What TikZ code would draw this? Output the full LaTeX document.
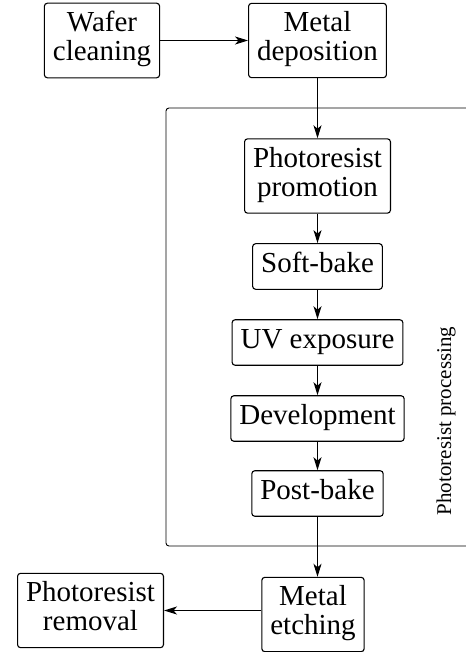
\documentclass[tikz,border=0pt]{standalone}
\usepackage{fontspec}
\setmainfont{Liberation Serif}
\usetikzlibrary{arrows.meta}

\begin{document}
\begin{tikzpicture}[x=1pt,y=-1pt,
        stepbox/.style={draw, rounded corners=3pt, line width=1.1pt, align=center,
            inner xsep=8.5pt, inner ysep=8.25pt,
            font=\fontsize{29}{29}\selectfont,
            execute at begin node=\strut, execute at end node=\strut},
        flow/.style={line width=1.1pt, -{Stealth[length=13pt,width=8pt,inset=3.5pt]}}]
        \useasboundingbox (0,0) rectangle (465,652);

        %%%%%%%%% Riquadro %%%%%%%%%
        \draw[line width=0.9pt, rounded corners=3pt] (166,108) rectangle (490,546);
        \node[rotate=90, font=\fontsize{21}{21}\selectfont] (proclabel) at (446,421) {Photoresist processing};

        %%%%%%%%% Passi %%%%%%%%%%
        \node[stepbox] (wafer) at (102,40.5) {Wafer\\cleaning};
        \node[stepbox] (depo) at (317.5,40.5) {Metal\\deposition};
        \node[stepbox] (promo) at (317.5,176) {Photoresist\\promotion};
        \node[stepbox] (soft) at (317.5,266.5) {Soft-bake};
        \node[stepbox] (uv) at (317.5,342.5) {UV exposure};
        \node[stepbox] (devel) at (317.5,418.5) {Development};
        \node[stepbox] (post) at (317.5,493.5) {Post-bake};
        \node[stepbox] (etch) at (313,614.5) {Metal\\etching};
        \node[stepbox] (removal) at (90.5,610.5) {Photoresist\\removal};

        %%%%%%%%% Frecce %%%%%%%%%
        \draw[flow] (wafer) -- (depo);
        \draw[flow] (depo.south) -- (depo.south |- promo.north);
        \draw[flow] (promo) -- (soft);
        \draw[flow] (soft) -- (uv);
        \draw[flow] (uv) -- (devel);
        \draw[flow] (devel) -- (post);
        \draw[flow] (post.south) -- (post.south |- etch.north);
        \draw[flow] (etch.west |- removal.east) -- (removal.east);
    \end{tikzpicture}
\end{document}
